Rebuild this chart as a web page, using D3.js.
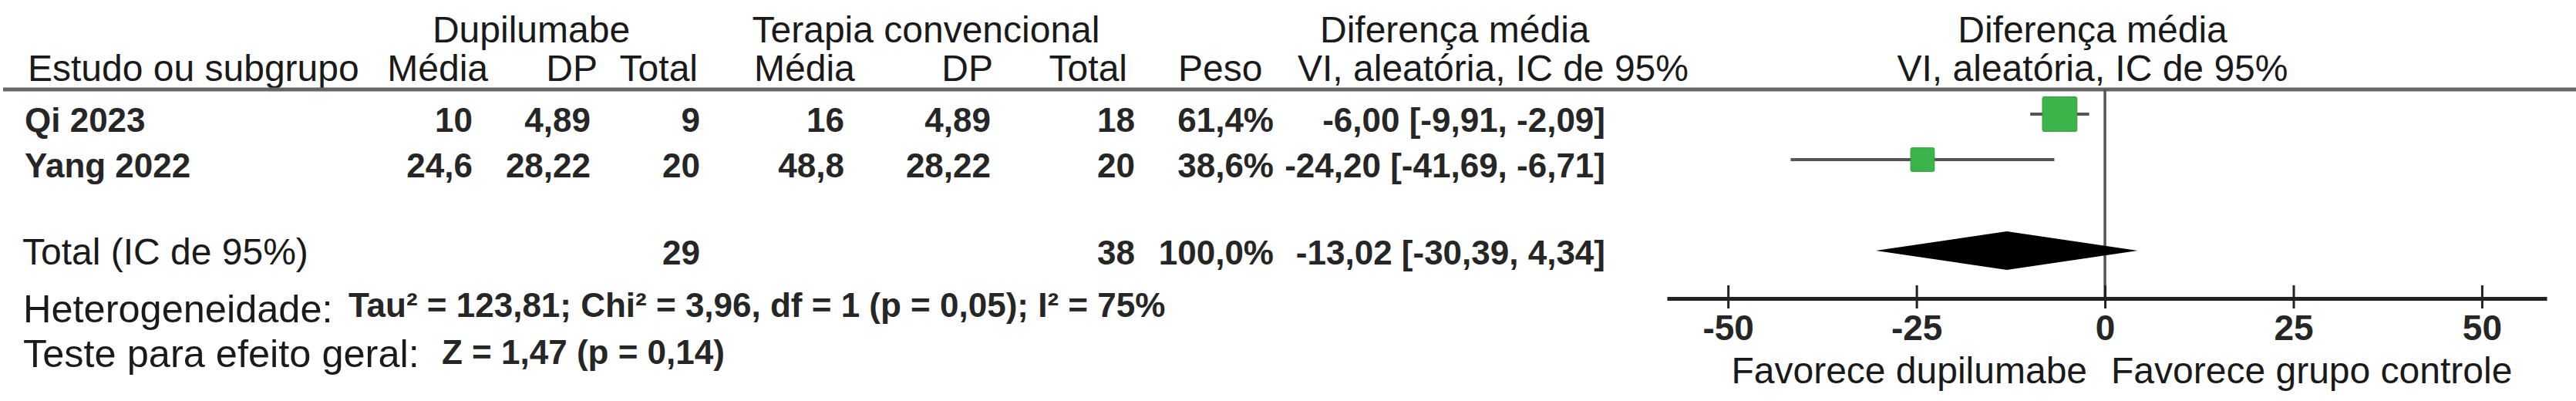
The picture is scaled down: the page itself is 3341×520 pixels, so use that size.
<!DOCTYPE html>
<html>
<head>
<meta charset="utf-8">
<title>Forest plot - dupilumabe</title>
<script src="https://d3js.org/d3.v7.min.js"></script>
<style>
body { margin: 0; background: #fff; }
text { font-family: "Liberation Sans", Arial, Helvetica, sans-serif; fill: #1a1a1a; }
.hd { font-size: 48px; }
.ft { font-size: 50.5px; }
.num { font-size: 44px; font-weight: bold; fill: #262626; }
</style>
</head>
<body>
<script type="text/javascript">

// data
var studies   = ["Qi 2023", "Yang 2022"];
var dupiMean  = [10, 24.6];
var dupiSD    = [4.89, 28.22];
var dupiN     = [9, 20];
var convMean  = [16, 48.8];
var convSD    = [4.89, 28.22];
var convN     = [18, 20];
var weights   = [61.4, 38.6];
var md        = [-6.00, -24.20];
var ciLow     = [-9.91, -41.69];
var ciHigh    = [-2.09, -6.71];

var totalLabel = "Total (IC de 95%)";
var totalN     = [29, 38];
var totalW     = [100.0];
var totalMD    = [-13.02, -30.39, 4.34]; // estimate, low, high

var ticks      = [-50, -25, 0, 25, 50];
var axisExtent = [-58.1, 58.6];

var hetLabel  = "Heterogeneidade:";
var hetText   = "Tau² = 123,81; Chi² = 3,96, df = 1 (p = 0,05); I² = 75%";
var testLabel = "Teste para efeito geral:";
var testText  = "Z = 1,47 (p = 0,14)";
var favLeft   = "Favorece dupilumabe";
var favRight  = "Favorece grupo controle";

var W = 3341, H = 520;

var svg = d3.select("body").append("svg")
    .attr("width", W)
    .attr("height", H);

var x = d3.scaleLinear().domain(axisExtent).range([2162, 3303]);
var y = d3.scaleLinear().domain([0, 3]).range([148, 325]);
var size = d3.scaleLinear().domain([0, 100]).range([7, 68.5]);

var loc = d3.formatLocale({decimal: ",", thousands: ".", grouping: [3], currency: ["", ""], minus: "-"});
var f2 = loc.format(".2f"), f1 = loc.format(".1f");
var fn = function(v) { return String(v).replace(".", ","); };
var fci = function(m, lo, hi) { return f2(m) + " [" + f2(lo) + ", " + f2(hi) + "]"; };

// headers
var head1 = [
  {t: "Dupilumabe", x: 689, a: "middle"},
  {t: "Terapia convencional", x: 1201, a: "middle"},
  {t: "Diferença média", x: 1712, a: "start"},
  {t: "Diferença média", x: 2714, a: "middle"}
];
var head2 = [
  {t: "Estudo ou subgrupo", x: 36, a: "start"},
  {t: "Média", x: 633, a: "end"},
  {t: "DP", x: 775, a: "end"},
  {t: "Total", x: 905, a: "end"},
  {t: "Média", x: 978, a: "start"},
  {t: "DP", x: 1288, a: "end"},
  {t: "Total", x: 1462, a: "end"},
  {t: "Peso", x: 1528, a: "start"},
  {t: "VI, aleatória, IC de 95%", x: 1683, a: "start"},
  {t: "VI, aleatória, IC de 95%", x: 2714, a: "middle"}
];

svg.append("g").selectAll("text").data(head1).enter().append("text")
    .attr("class", "hd")
    .attr("x", function(d) { return d.x; })
    .attr("y", 55)
    .attr("text-anchor", function(d) { return d.a; })
    .text(function(d) { return d.t; });

svg.append("g").selectAll("text").data(head2).enter().append("text")
    .attr("class", "hd")
    .attr("x", function(d) { return d.x; })
    .attr("y", 105)
    .attr("text-anchor", function(d) { return d.a; })
    .text(function(d) { return d.t; });

// rule under headers
svg.append("line")
    .attr("x1", 4).attr("x2", W)
    .attr("y1", 116).attr("y2", 116)
    .attr("stroke", "#666").attr("stroke-width", 5);

// zero line
svg.append("line")
    .attr("x1", x(0)).attr("x2", x(0))
    .attr("y1", 116).attr("y2", 387)
    .attr("stroke", "#555").attr("stroke-width", 3.5);

// table columns (right aligned)
var cols = [
  {vals: dupiMean, fmt: fn, x: 613},
  {vals: dupiSD, fmt: fn, x: 766},
  {vals: dupiN, fmt: fn, x: 908},
  {vals: convMean, fmt: fn, x: 1095},
  {vals: convSD, fmt: fn, x: 1285},
  {vals: convN, fmt: fn, x: 1472},
  {vals: weights, fmt: function(v) { return f1(v) + "%"; }, x: 1652},
  {vals: md, fmt: function(v, i) { return fci(v, ciLow[i], ciHigh[i]); }, x: 2082}
];

var rowOff = 23;

svg.append("g").selectAll("text").data(studies).enter().append("text")
    .attr("class", "num")
    .attr("x", 32)
    .attr("y", function(d, i) { return y(i) + rowOff; })
    .text(function(d) { return d; });

cols.forEach(function(c) {
  svg.append("g").selectAll("text").data(c.vals).enter().append("text")
      .attr("class", "num")
      .attr("x", c.x)
      .attr("y", function(d, i) { return y(i) + rowOff; })
      .attr("text-anchor", "end")
      .text(function(d, i) { return c.fmt(d, i); });
});

// total row
var totY = y(3) + 18;
svg.append("text").attr("class", "hd").attr("x", 29).attr("y", totY).text(totalLabel);
var totCells = [
  {t: fn(totalN[0]), x: 908},
  {t: fn(totalN[1]), x: 1472},
  {t: f1(totalW[0]) + "%", x: 1652},
  {t: fci(totalMD[0], totalMD[1], totalMD[2]), x: 2082}
];
svg.append("g").selectAll("text").data(totCells).enter().append("text")
    .attr("class", "num")
    .attr("x", function(d) { return d.x; })
    .attr("y", totY)
    .attr("text-anchor", "end")
    .text(function(d) { return d.t; });

// confidence intervals
svg.append("g").selectAll("line").data(md).enter().append("line")
    .attr("x1", function(d, i) { return x(ciLow[i]); })
    .attr("x2", function(d, i) { return x(ciHigh[i]); })
    .attr("y1", function(d, i) { return y(i); })
    .attr("y2", function(d, i) { return y(i); })
    .attr("stroke", "#555")
    .attr("stroke-width", 4);

// squares
svg.append("g").selectAll("rect").data(md).enter().append("rect")
    .attr("x", function(d, i) { return x(d) - size(weights[i]) / 2; })
    .attr("y", function(d, i) { return y(i) - size(weights[i]) / 2; })
    .attr("width", function(d, i) { return size(weights[i]); })
    .attr("height", function(d, i) { return size(weights[i]); })
    .attr("rx", 2)
    .attr("fill", "#3bb44a")
    .attr("stroke", "#2f9e3e")
    .attr("stroke-width", 1);

// diamond
var dy = y(3), dh = 25;
svg.append("path")
    .attr("d", d3.line()([
      [x(totalMD[1]), dy],
      [x(totalMD[0]), dy - dh],
      [x(totalMD[2]), dy],
      [x(totalMD[0]), dy + dh]
    ]) + "Z")
    .attr("fill", "#000");

// axis
var ax = svg.append("g")
    .attr("transform", "translate(0,387)")
    .call(d3.axisBottom(x).tickValues(ticks).tickFormat(loc.format("d")).tickSizeOuter(0).tickSizeInner(0));

ax.select(".domain").attr("stroke", "#222").attr("stroke-width", 5);
ax.selectAll(".tick line").attr("y1", -17).attr("y2", 13).attr("stroke", "#222").attr("stroke-width", 3);
ax.selectAll(".tick text")
    .attr("class", "num")
    .attr("y", 54).attr("dy", 0)
    .attr("font-size", null).attr("fill", null)
    .style("font-size", "46px");
ax.attr("font-family", null).attr("font-size", null);

svg.append("text").attr("class", "hd")
    .attr("x", x(0) - 23).attr("y", 497)
    .attr("text-anchor", "end").text(favLeft);
svg.append("text").attr("class", "hd")
    .attr("x", x(0) + 8).attr("y", 497)
    .text(favRight);

// heterogeneity / overall test
svg.append("text").attr("class", "ft").attr("x", 30).attr("y", 418).text(hetLabel);
svg.append("text").attr("class", "num").attr("x", 452).attr("y", 411).text(hetText);
svg.append("text").attr("class", "ft").attr("x", 30).attr("y", 476).text(testLabel);
svg.append("text").attr("class", "num").attr("x", 573).attr("y", 472).text(testText);

</script>
</body>
</html>
